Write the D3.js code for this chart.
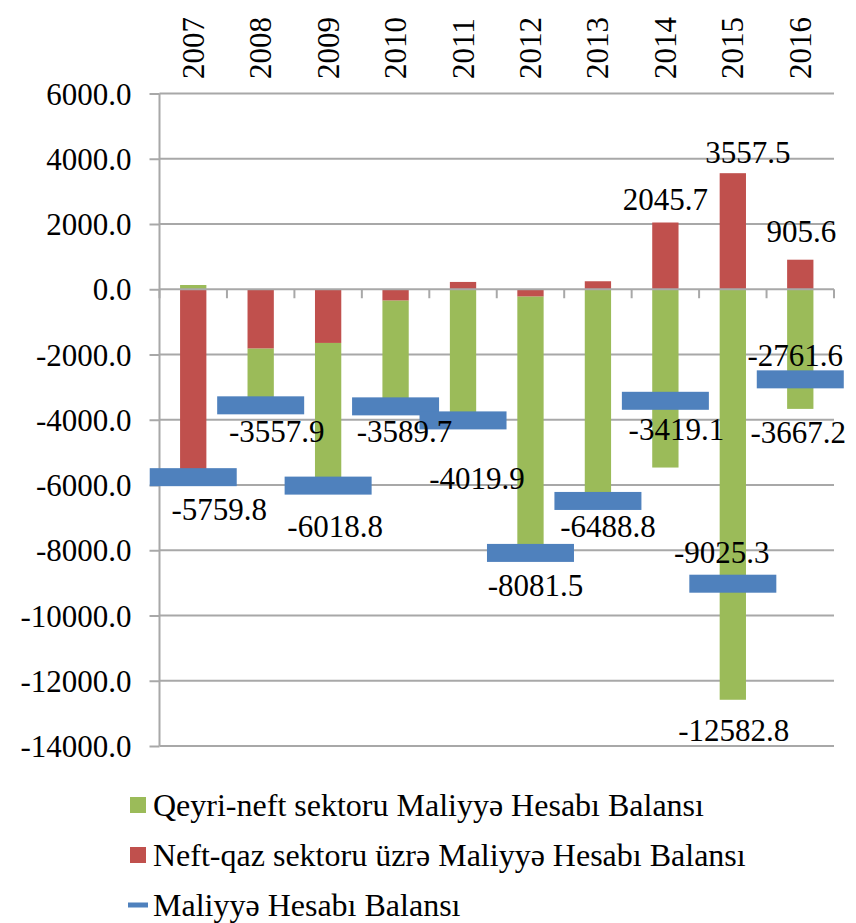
<!DOCTYPE html>
<html>
<head>
<meta charset="utf-8">
<script src="https://cdn.jsdelivr.net/npm/d3@7"></script>
<style>
  body { margin: 0; background: #fff; }
  text { font-family: "Liberation Serif", "Times New Roman", serif; fill: #000; }
</style>
</head>
<body>
<script>
'use strict';

// data
var years = ["2007", "2008", "2009", "2010", "2011", "2012", "2013", "2014", "2015", "2016"];
var nonOil = [130, -1738, -4373, -3241, -4244, -7855, -6734, -5464.8, -12582.8, -3667.2];
var oilGas = [-5890, -1820, -1646, -349, 224, -226, 245, 2045.7, 3557.5, 905.6];
var total = [-5759.8, -3557.9, -6018.8, -3589.7, -4019.9, -8081.5, -6488.8, -3419.1, -9025.3, -2761.6];
var yTicks = [6000, 4000, 2000, 0, -2000, -4000, -6000, -8000, -10000, -12000, -14000];
var legendNames = [
    "Qeyri-neft sektoru Maliyyə Hesabı Balansı",
    "Neft-qaz sektoru üzrə Maliyyə Hesabı Balansı",
    "Maliyyə Hesabı Balansı"
];

// which bar values carry a label, and hand-moved label offsets (as in the original)
var oilLabelled = ["2014", "2015", "2016"];
var nonOilLabelled = ["2015", "2016"];
var totalNudge = [[26, 43], [16, 37], [7, 51], [9, 36], [14, 69], [5, 43], [10, 36], [11, 39], [-11, -21], [-5, -13]];
var oilNudge = { "2014": [0, -13], "2015": [15, -10], "2016": [1, -18] };
var nonOilNudge = { "2015": [1, 41], "2016": [-2, 34] };

var width = 856, height = 923;
var colors = { nonOil: "#9BBB59", oilGas: "#C0504D", total: "#4F81BD" };
var gridColor = "#a8a8a8";

var svg = d3.select("body").append("svg")
    .attr("width", width)
    .attr("height", height);

var x = d3.scaleBand().domain(years).range([159.5, 834]);
var y = d3.scaleLinear().domain([-14000, 6000]).range([746, 93.5]);
var barW = x.bandwidth() * 0.39;
var markW = 87, markH = 18;

var rows = years.map(function(yr, i) {
    return { year: yr, oilGas: oilGas[i], nonOil: nonOil[i], total: total[i] };
});

var stack = d3.stack()
    .keys(["oilGas", "nonOil"])
    .offset(d3.stackOffsetDiverging);
var series = stack(rows);

// gridlines
svg.append("g")
    .selectAll("line")
    .data(yTicks.filter(function(t) { return t !== 0; }))
    .enter().append("line")
        .attr("x1", x.range()[0])
        .attr("x2", x.range()[1])
        .attr("y1", d => y(d))
        .attr("y2", d => y(d))
        .attr("stroke", gridColor)
        .attr("stroke-width", 2);

// stacked bars
svg.append("g")
    .selectAll("g")
    .data(series)
    .enter().append("g")
        .attr("fill", d => colors[d.key])
    .selectAll("rect")
    .data(d => d)
    .enter().append("rect")
        .attr("x", d => x(d.data.year) + (x.bandwidth() - barW) / 2)
        .attr("y", d => y(Math.max(d[0], d[1])))
        .attr("width", barW)
        .attr("height", d => Math.abs(y(d[0]) - y(d[1])));

// y axis
var yAxis = d3.axisLeft(y)
    .tickValues(yTicks)
    .tickSize(10)
    .tickPadding(18)
    .tickFormat(d3.format(".1f"));
var yg = svg.append("g")
    .attr("transform", "translate(" + x.range()[0] + ",0)")
    .call(yAxis);
yg.select(".domain").attr("stroke", gridColor).attr("stroke-width", 2).attr("d", "M0," + y.range()[1] + "V" + y.range()[0]);
yg.selectAll(".tick line").attr("stroke", gridColor).attr("stroke-width", 2);
yg.selectAll(".tick text")
    .style("font-family", "'Liberation Serif', 'Times New Roman', serif")
    .style("font-size", "31px")
    .attr("dy", "0.34em")
    .text(d => d3.format(".1f")(d).replace("−", "-"));

// category axis on the zero line
var xg = svg.append("g")
    .attr("transform", "translate(0," + y(0) + ")");
xg.append("line")
    .attr("x1", x.range()[0])
    .attr("x2", x.range()[1])
    .attr("stroke", gridColor)
    .attr("stroke-width", 2);
xg.selectAll(".ctick")
    .data(years.map(d => x(d)).concat([x.range()[1]]))
    .enter().append("line")
        .attr("class", "ctick")
        .attr("x1", d => d)
        .attr("x2", d => d)
        .attr("y1", 0)
        .attr("y2", 9)
        .attr("stroke", gridColor)
        .attr("stroke-width", 2);

// year labels on top, rotated
svg.append("g")
    .selectAll("text")
    .data(years)
    .enter().append("text")
        .attr("transform", d => "translate(" + (x(d) + x.bandwidth() / 2) + ",79) rotate(-90)")
        .attr("text-anchor", "start")
        .attr("dy", "0.34em")
        .style("font-size", "31px")
        .text(d => d);

// total balance markers
svg.append("g")
    .selectAll("rect")
    .data(rows)
    .enter().append("rect")
        .attr("x", d => x(d.year) + x.bandwidth() / 2 - markW / 2)
        .attr("y", d => y(d.total) - markH / 2)
        .attr("width", markW)
        .attr("height", markH)
        .attr("fill", colors.total);

// value labels
var fmt = d3.format(".1f");
var labels = svg.append("g").style("font-size", "31px").attr("text-anchor", "middle");

labels.selectAll(".lt")
    .data(rows)
    .enter().append("text")
        .attr("class", "lt")
        .attr("x", (d, i) => x(d.year) + x.bandwidth() / 2 + totalNudge[i][0])
        .attr("y", (d, i) => y(d.total) + totalNudge[i][1])
        .text(d => fmt(d.total).replace("−", "-"));

labels.selectAll(".lo")
    .data(rows.filter(d => oilLabelled.indexOf(d.year) >= 0))
    .enter().append("text")
        .attr("class", "lo")
        .attr("x", d => x(d.year) + x.bandwidth() / 2 + oilNudge[d.year][0])
        .attr("y", d => y(d.oilGas) + oilNudge[d.year][1])
        .text(d => fmt(d.oilGas));

labels.selectAll(".ln")
    .data(rows.filter(d => nonOilLabelled.indexOf(d.year) >= 0))
    .enter().append("text")
        .attr("class", "ln")
        .attr("x", d => x(d.year) + x.bandwidth() / 2 + nonOilNudge[d.year][0])
        .attr("y", d => y(d.nonOil) + nonOilNudge[d.year][1])
        .text(d => fmt(d.nonOil).replace("−", "-"));

// legend
var legend = svg.append("g").attr("transform", "translate(130,805)");
var items = legend.selectAll("g")
    .data(legendNames)
    .enter().append("g")
        .attr("transform", (d, i) => "translate(0," + i * 50 + ")");
items.filter((d, i) => i < 2).append("rect")
    .attr("x", 0)
    .attr("y", -8)
    .attr("width", 16)
    .attr("height", 16)
    .attr("fill", (d, i) => i === 0 ? colors.nonOil : colors.oilGas);
items.filter((d, i) => i === 2).append("rect")
    .attr("x", -2)
    .attr("y", -2.5)
    .attr("width", 20)
    .attr("height", 5)
    .attr("fill", colors.total);
items.append("text")
    .attr("x", 23)
    .attr("dy", "0.34em")
    .style("font-size", "32px")
    .text(d => d);
</script>
</body>
</html>
